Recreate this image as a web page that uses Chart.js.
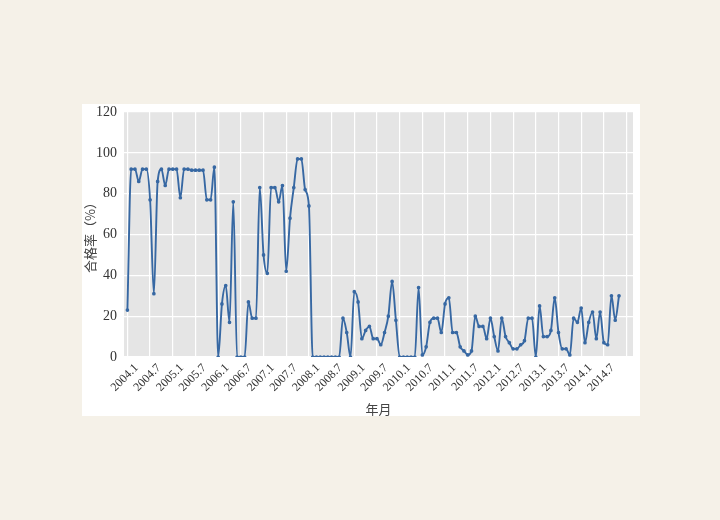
<!DOCTYPE html>
<html>
<head>
<meta charset="utf-8">
<script src="https://cdn.jsdelivr.net/npm/chart.js@4.4.0/dist/chart.umd.min.js"></script>
<style>
    html, body { margin: 0; padding: 0; background: #f5f1e8; }
    #wrap { width: 720px; height: 520px; }
</style>
</head>
<body>
<div id="wrap"><canvas id="rateChart" width="720" height="520"></canvas></div>
<script>
// monthly pass rate, 2004.1 - 2014.11
const passRate = [
    23, 92, 92, 86, 92, 92, 77, 31, 86, 92, 84, 92,          // 2004
    92, 92, 78, 92, 92, 91.5, 91.5, 91.5, 91.5, 77, 77, 93,  // 2005
    0, 26, 35, 17, 76, 0, 0, 0, 27, 19, 19, 83,              // 2006
    50, 41, 83, 83, 76, 84, 42, 68, 83, 97, 97, 82,          // 2007
    74, 0, 0, 0, 0, 0, 0, 0, 0, 19, 12, 0,                   // 2008
    32, 27, 9, 13, 15, 9, 9, 6, 12, 20, 37, 18,              // 2009
    0, 0, 0, 0, 0, 34, 1, 5, 17, 19, 19, 12,                 // 2010
    26, 29, 12, 12, 5, 3, 1, 3, 20, 15, 15, 9,               // 2011
    19, 10, 3, 19, 10, 7, 4, 4, 6, 8, 19, 19,                // 2012
    0, 25, 10, 10, 13, 29, 12, 4, 4, 1, 19, 17,              // 2013
    24, 7, 17, 22, 9, 22, 7, 6, 30, 18, 30                   // 2014
];

const tickLabels = [
    '2004.1', '2004.7', '2005.1', '2005.7', '2006.1', '2006.7',
    '2007.1', '2007.7', '2008.1', '2008.7', '2009.1', '2009.7',
    '2010.1', '2010.7', '2011.1', '2011.7', '2012.1', '2012.7',
    '2013.1', '2013.7', '2014.1', '2014.7'
];
const tickStep = 6; // months between labels
const yTicks = [0, 20, 40, 60, 80, 100, 120];

const points = passRate.map((v, i) => ({ x: i, y: v }));

// page background, white panel and grey plot area
const backdrop = {
    id: 'backdrop',
    beforeDraw(chart) {
        const ctx = chart.ctx;
        const a = chart.chartArea;
        ctx.save();
        ctx.fillStyle = '#f5f1e8';
        ctx.fillRect(0, 0, chart.width, chart.height);
        ctx.fillStyle = '#ffffff';
        ctx.fillRect(82, 104, 558, 312);
        ctx.fillStyle = '#e5e5e5';
        ctx.fillRect(a.left, a.top, a.right - a.left, a.bottom - a.top);
        ctx.restore();
    }
};

new Chart(document.getElementById('rateChart').getContext('2d'), {
    type: 'line',
    data: {
        datasets: [{
            label: '合格率',
            data: points,
            borderColor: '#3768a3',
            backgroundColor: '#2f5d94',
            borderWidth: 1.9,
            pointRadius: 0.9,
            pointHoverRadius: 3,
            cubicInterpolationMode: 'monotone',
            fill: false
        }]
    },
    plugins: [backdrop],
    options: {
        responsive: false,
        animation: false,
        layout: {
            padding: { left: 82, top: 112, right: 87, bottom: 103 }
        },
        scales: {
            x: {
                type: 'linear',
                min: -0.9,
                max: 133.7,
                afterBuildTicks: scale => {
                    scale.ticks = [];
                    for (let k = 0; k <= tickLabels.length; k++) {
                        scale.ticks.push({ value: k * tickStep });
                    }
                },
                afterFit: scale => { scale.height = 60; },
                grid: { color: '#ffffff', lineWidth: 1.2, drawTicks: false },
                border: { display: false },
                ticks: {
                    autoSkip: false,
                    maxRotation: 45,
                    minRotation: 45,
                    padding: 4,
                    labelOffset: 9,
                    color: '#333',
                    font: { family: 'Liberation Serif', size: 12 },
                    callback: (value, index) => tickLabels[index] || ''
                },
                title: {
                    display: true,
                    text: '年月',
                    color: '#444',
                    padding: { top: 0, bottom: 0 },
                    font: { family: 'Noto Sans CJK SC', size: 13 }
                }
            },
            y: {
                min: 0,
                max: 120,
                afterBuildTicks: scale => {
                    scale.ticks = yTicks.map(v => ({ value: v }));
                },
                afterFit: scale => { scale.width = 42; },
                grid: { color: '#ffffff', lineWidth: 1.2, drawTicks: false },
                border: { display: false },
                ticks: {
                    padding: 7,
                    color: '#333',
                    font: { family: 'Liberation Serif', size: 14 }
                },
                title: {
                    display: true,
                    text: '合格率（%）',
                    color: '#444',
                    padding: { top: 0, bottom: 0 },
                    font: { family: 'Noto Sans CJK SC', size: 13 }
                }
            }
        },
        plugins: {
            legend: { display: false },
            tooltip: { enabled: true }
        }
    }
});
</script>
</body>
</html>
